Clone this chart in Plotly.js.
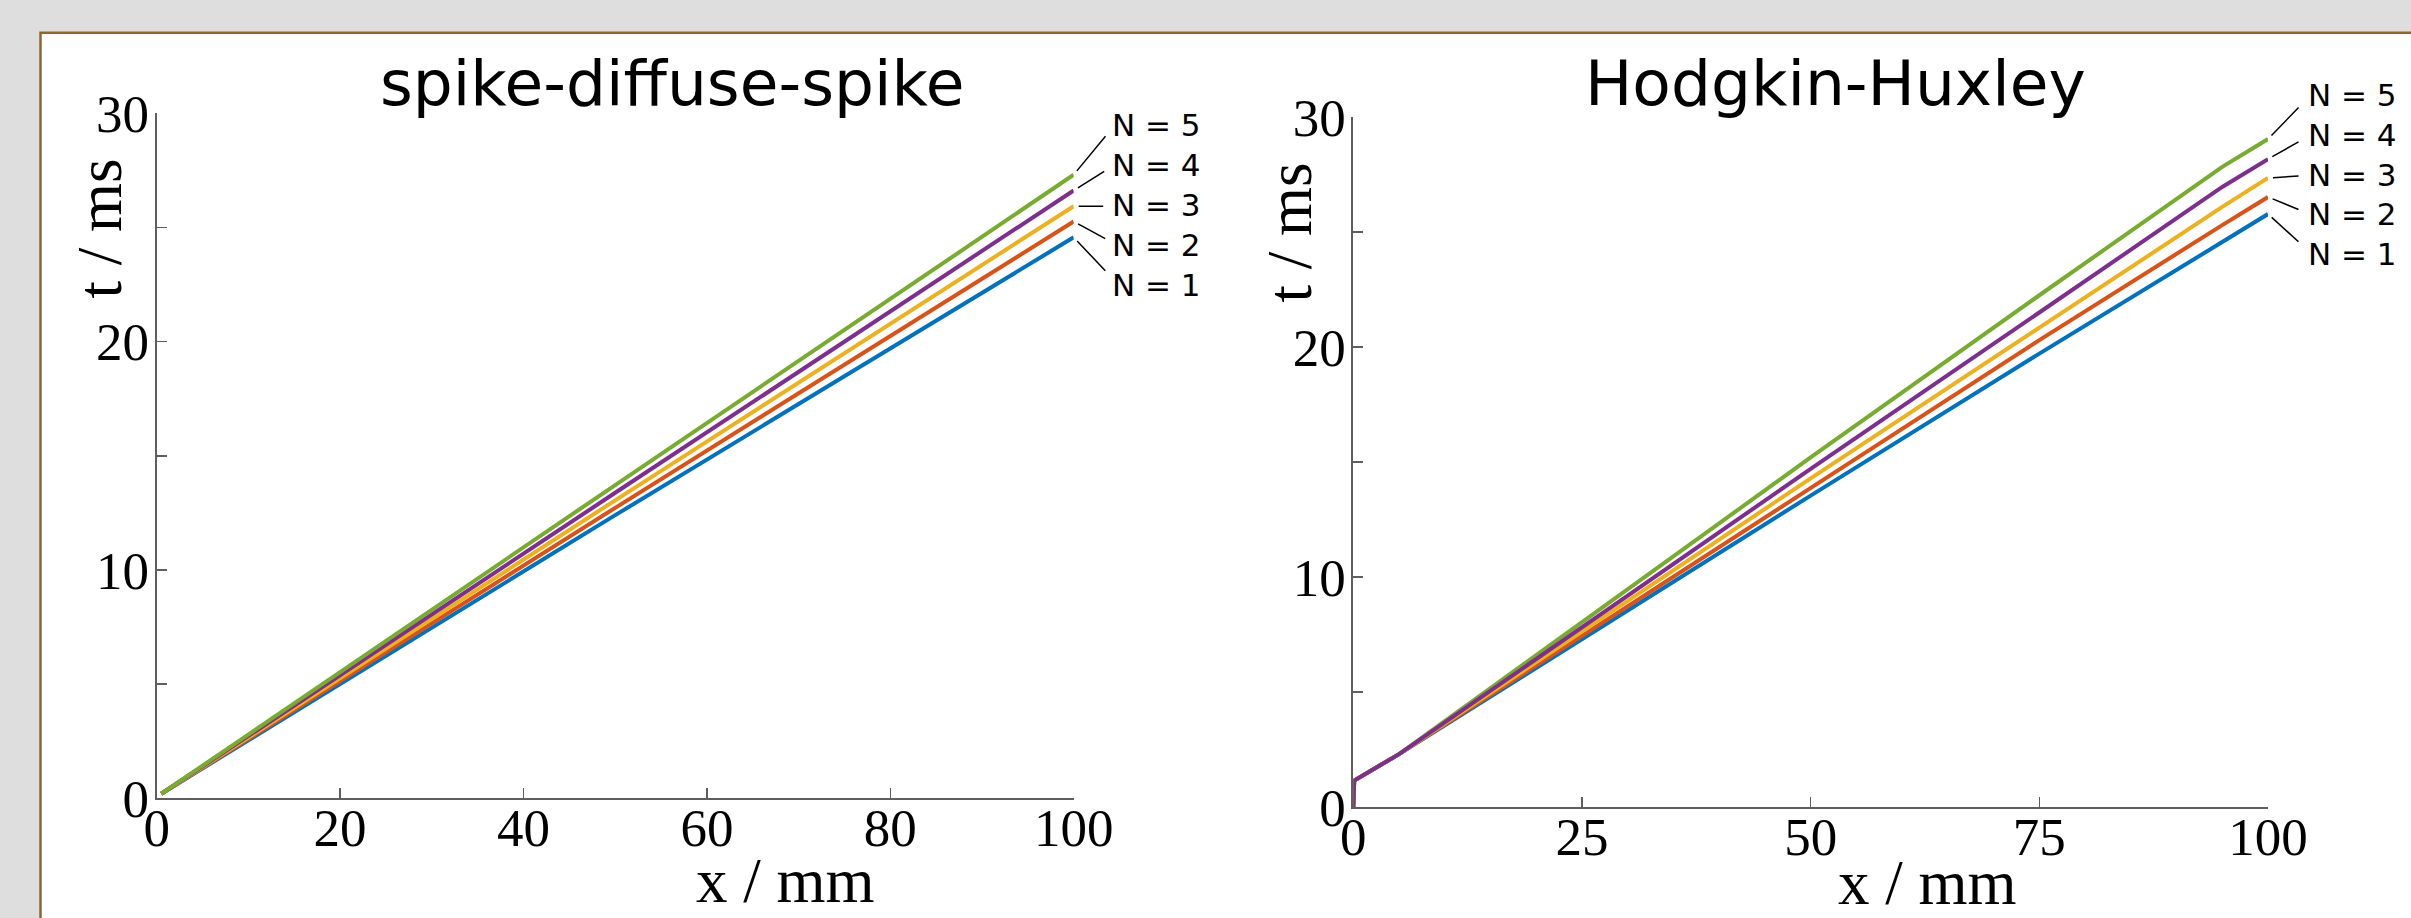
<!DOCTYPE html>
<html>
<head>
<meta charset="utf-8">
<script src="https://cdn.plot.ly/plotly-3.0.1.min.js"></script>
<style>html,body{margin:0;padding:0;background:#dedede;}#chart{width:2411px;height:918px;}</style>
</head>
<body>
<div id="chart"></div>
<script>
// ---- data ----
const seriesNames = ['N = 1', 'N = 2', 'N = 3', 'N = 4', 'N = 5'];
const seriesColors = ['#0072BD', '#D95319', '#EDB120', '#7E2F8E', '#77AC30'];

// spike-diffuse-spike
const xSDS = [0.5, 50, 100];
const tSDS_N1 = [0.2, 12.40, 24.57];
const tSDS_N2 = [0.2, 12.72, 25.26];
const tSDS_N3 = [0.2, 13.05, 25.93];
const tSDS_N4 = [0.2, 13.38, 26.62];
const tSDS_N5 = [0.2, 13.72, 27.31];

// Hodgkin-Huxley
const xHH = [0, 0.1, 5, 25, 50, 75, 95, 100];
const tHH_N1 = [0, 1.15, 2.3, 7.30, 13.54, 19.71, 24.55, 25.78];
const tHH_N2 = [0, 1.15, 2.3, 7.44, 13.86, 20.30, 25.30, 26.52];
const tHH_N3 = [0, 1.15, 2.3, 7.63, 14.29, 20.84, 26.09, 27.35];
const tHH_N4 = [0, 1.15, 2.3, 7.81, 14.70, 21.50, 26.96, 28.17];
const tHH_N5 = [0, 1.15, 2.3, 8.03, 15.20, 22.25, 27.83, 29.04];

const xTicksSDS = [0, 20, 40, 60, 80, 100];
const xTicksHH = [0, 25, 50, 75, 100];
const yTickVals = [0, 5, 10, 15, 20, 25, 30];
const yTickText = ['0', '', '10', '', '20', '', '30'];

const sdsSeries = [tSDS_N1, tSDS_N2, tSDS_N3, tSDS_N4, tSDS_N5];
const hhSeries = [tHH_N1, tHH_N2, tHH_N3, tHH_N4, tHH_N5];

// ---- layout constants ----
const W = 2411, H = 918;
const px = v => v / W;
const py = v => 1 - v / H;
const axisColor = '#5e5e5e';
const serif = 'Liberation Serif, Times New Roman, serif';
const sans = 'DejaVu Sans, sans-serif';

const traces = [];
sdsSeries.forEach((t, i) => {
  traces.push({x: xSDS, y: t, xaxis: 'x', yaxis: 'y', mode: 'lines', name: seriesNames[i],
    line: {color: seriesColors[i], width: 4}, hoverinfo: 'skip'});
});
[0, 1, 2, 4, 3].forEach(i => {
  traces.push({x: xHH, y: hhSeries[i], xaxis: 'x2', yaxis: 'y2', mode: 'lines', name: seriesNames[i],
    line: {color: seriesColors[i], width: 4}, hoverinfo: 'skip'});
});

function xAxis(domain, tickvals) {
  return {domain: domain, range: [0, 100], tickvals: tickvals, ticktext: tickvals.map(String),
    ticks: 'inside', ticklen: 10, tickwidth: 1.5, tickcolor: axisColor, ticklabelstandoff: -18,
    showline: true, linecolor: axisColor, linewidth: 2, showgrid: false, zeroline: false,
    tickfont: {family: serif, size: 53, color: '#000'}, fixedrange: true};
}
function yAxis(domain, anchor) {
  return {domain: domain, range: [0, 30], tickvals: yTickVals, ticktext: yTickText, anchor: anchor,
    ticks: 'inside', ticklen: 10, tickwidth: 1.5, tickcolor: axisColor, ticklabelstandoff: -5,
    showline: true, linecolor: axisColor, linewidth: 2, showgrid: false, zeroline: false,
    tickfont: {family: serif, size: 53, color: '#000'}, fixedrange: true};
}

const annotations = [];
// titles
annotations.push({text: 'spike-diffuse-spike', xref: 'paper', yref: 'paper', x: px(672), y: py(83.5),
  xanchor: 'center', yanchor: 'middle', showarrow: false, font: {family: sans, size: 63, color: '#000'}});
annotations.push({text: 'Hodgkin-Huxley', xref: 'paper', yref: 'paper', x: px(1835), y: py(83.5),
  xanchor: 'center', yanchor: 'middle', showarrow: false, font: {family: sans, size: 63, color: '#000'}});
// axis titles
annotations.push({text: 'x / mm', xref: 'paper', yref: 'paper', x: px(785), y: py(881),
  xanchor: 'center', yanchor: 'middle', showarrow: false, font: {family: serif, size: 63, color: '#000'}});
annotations.push({text: 'x / mm', xref: 'paper', yref: 'paper', x: px(1927), y: py(883),
  xanchor: 'center', yanchor: 'middle', showarrow: false, font: {family: serif, size: 63, color: '#000'}});
annotations.push({text: 't / ms', xref: 'paper', yref: 'paper', x: px(99), y: py(228.5), textangle: -90,
  xanchor: 'center', yanchor: 'middle', showarrow: false, font: {family: serif, size: 63, color: '#000'}});
annotations.push({text: 't / ms', xref: 'paper', yref: 'paper', x: px(1289), y: py(232.5), textangle: -90,
  xanchor: 'center', yanchor: 'middle', showarrow: false, font: {family: serif, size: 63, color: '#000'}});

// series labels with leader lines
const sdsLabelY = [285, 245, 205, 165, 125];
const sdsLeader = [[33, 35], [33, 18], [31, 0], [32, -20], [33, -40]];
const hhLabelY = [254, 214, 175, 135, 95];
const hhLeader = [[32, 29], [32, 13], [32, -2], [32, -18], [32, -33]];

sdsSeries.forEach((t, i) => {
  const yEnd = t[t.length - 1];
  annotations.push({text: '', xref: 'x', yref: 'y', x: xSDS[xSDS.length - 1], y: yEnd,
    showarrow: true, arrowhead: 0, arrowwidth: 1.5, arrowcolor: '#000', standoff: 5,
    ax: sdsLeader[i][0], ay: sdsLeader[i][1], font: {size: 1}});
  annotations.push({text: seriesNames[i], xref: 'x', yref: 'paper', x: xSDS[xSDS.length - 1], xshift: 36,
    y: py(sdsLabelY[i]), xanchor: 'left', yanchor: 'middle', showarrow: false,
    font: {family: sans, size: 31, color: '#000'}});
});
hhSeries.forEach((t, i) => {
  const yEnd = t[t.length - 1];
  annotations.push({text: '', xref: 'x2', yref: 'y2', x: xHH[xHH.length - 1], y: yEnd,
    showarrow: true, arrowhead: 0, arrowwidth: 1.5, arrowcolor: '#000', standoff: 5,
    ax: hhLeader[i][0], ay: hhLeader[i][1], font: {size: 1}});
  annotations.push({text: seriesNames[i], xref: 'x2', yref: 'paper', x: xHH[xHH.length - 1], xshift: 38,
    y: py(hhLabelY[i]), xanchor: 'left', yanchor: 'middle', showarrow: false,
    font: {family: sans, size: 31, color: '#000'}});
});

const layout = {
  width: W, height: H,
  margin: {l: 0, r: 0, t: 0, b: 0},
  paper_bgcolor: '#dedede', plot_bgcolor: 'rgba(0,0,0,0)',
  showlegend: false,
  xaxis: xAxis([px(156.7), px(1073.7)], xTicksSDS),
  yaxis: yAxis([py(798.3), py(113.3)], 'x'),
  xaxis2: Object.assign(xAxis([px(1353.3), px(2268)], xTicksHH), {anchor: 'y2'}),
  yaxis2: yAxis([py(807), py(117)], 'x2'),
  shapes: [{type: 'rect', xref: 'paper', yref: 'paper', layer: 'below',
    x0: px(40.5), x1: 1.05, y0: -0.05, y1: py(32.7),
    fillcolor: '#ffffff', line: {color: '#8a6a2c', width: 2.5}}],
  annotations: annotations
};

Plotly.newPlot('chart', traces, layout, {displayModeBar: false, staticPlot: true});
</script>
</body>
</html>
